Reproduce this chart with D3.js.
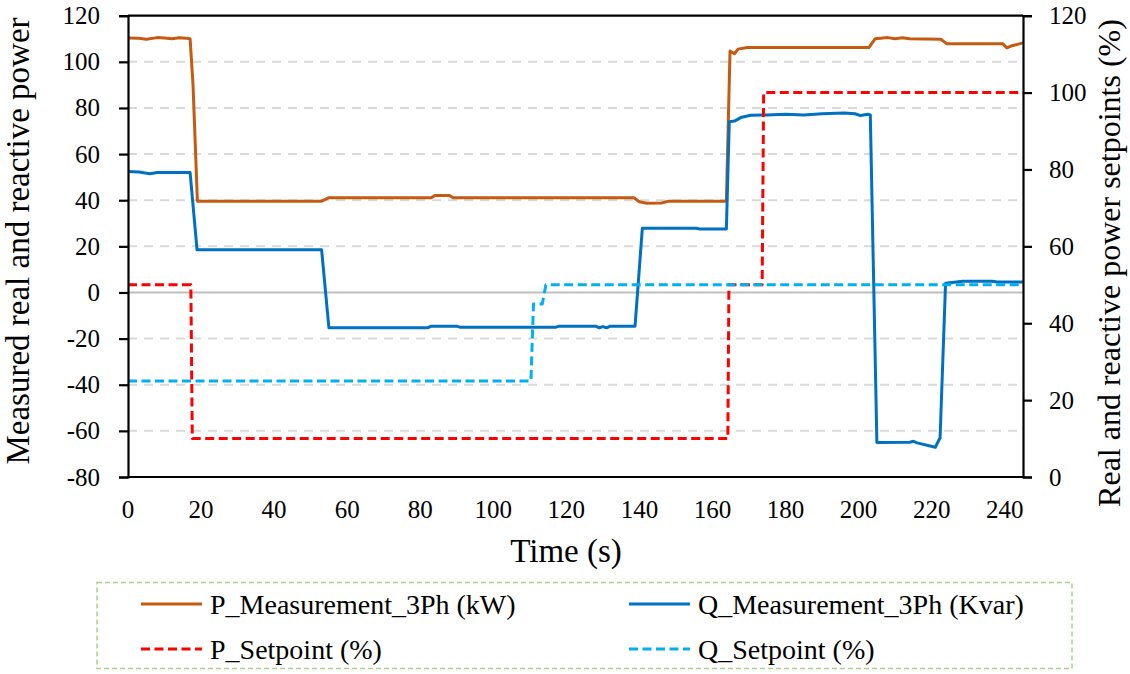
<!DOCTYPE html>
<html>
<head>
<meta charset="utf-8">
<script src="https://cdn.jsdelivr.net/npm/d3@7"></script>
</head>
<body style="margin:0">
<svg id="s" width="1130" height="674" font-family="Liberation Serif"></svg>
<script>
// Measured P (kW) - time (s) and value
var pMeasT = [0, 3, 5, 8, 10, 12, 14, 16, 17, 17.8, 19, 53, 55, 83, 84, 88, 89, 138.5, 140, 142, 146, 148, 163.8, 164.8, 166, 167, 169.5, 202.8, 204.5, 206, 208, 210, 212, 214, 222.5, 224.2, 239.5, 240.6, 242, 245];
var pMeasV = [110.3, 110.2, 109.8, 110.5, 110.3, 110, 110.4, 110.2, 110, 90, 39.6, 39.6, 41.1, 41.1, 42, 42, 41.1, 41.1, 39.3, 38.7, 38.8, 39.6, 39.6, 104.7, 103.5, 105.5, 106.2, 106.2, 110, 110.2, 110.5, 110, 110.4, 110, 109.8, 107.8, 107.8, 106, 107, 108.2];

// Measured Q (kvar)
var qMeasT = [0, 3, 6, 8, 17, 18.9, 53, 55, 82, 83, 90, 91, 117, 118, 128, 129, 130, 131, 132, 138.8, 140.8, 155.5, 156.5, 163.8, 164.6, 166, 168, 170.5, 175, 180, 185, 190, 196, 199, 200.5, 202.5, 203.2, 205, 214, 215, 216, 221, 222.3, 223.8, 228.5, 236.5, 238, 245];
var qMeasV = [52.5, 52.2, 51.5, 52, 52, 18.5, 18.5, -15.3, -15.3, -14.6, -14.6, -15.1, -15.1, -14.6, -14.6, -15.3, -14.8, -15.3, -14.6, -14.6, 27.9, 27.9, 27.5, 27.5, 74, 74.3, 76, 76.8, 77, 77.3, 77, 77.5, 77.8, 77.5, 76.7, 77.3, 77, -65, -64.9, -64.5, -65.2, -67.1, -63, 4, 4.9, 4.9, 4.5, 4.5];

// Setpoints (%), right axis
var pSetT = [0, 17.2, 17.6, 164.2, 164.5, 173.6, 174, 245];
var pSetV = [50, 50, 10, 10, 50, 50, 100, 100];
var qSetT = [0, 110.3, 111, 113.4, 114.4, 245];
var qSetV = [25, 25, 45, 45, 50, 50];

var xTicks = [0, 20, 40, 60, 80, 100, 120, 140, 160, 180, 200, 220, 240];
var yLeftTicks = [-80, -60, -40, -20, 0, 20, 40, 60, 80, 100, 120];
var yRightTicks = [0, 20, 40, 60, 80, 100, 120];

var series = [
    {name: "P_Measurement_3Ph (kW)", t: pMeasT, v: pMeasV, axis: "left", color: "#c55a11", dash: null},
    {name: "Q_Measurement_3Ph (Kvar)", t: qMeasT, v: qMeasV, axis: "left", color: "#0070c0", dash: null},
    {name: "P_Setpoint (%)", t: pSetT, v: pSetV, axis: "right", color: "#ff0000", dash: "9,4.5"},
    {name: "Q_Setpoint (%)", t: qSetT, v: qSetV, axis: "right", color: "#00b0f0", dash: "9,4.5"}
];

var fontName = "Liberation Serif";
var plot = {left: 128, right: 1023, top: 15.7, bottom: 477};
var svg = d3.select("#s");

var x = d3.scaleLinear().domain([0, 245]).range([plot.left, plot.right]);
var yL = d3.scaleLinear().domain([-80, 120]).range([plot.bottom, plot.top]);
var yR = d3.scaleLinear().domain([0, 120]).range([plot.bottom, plot.top]);

function label(parent, size) {
    return parent.append("text")
        .attr("font-family", fontName)
        .attr("font-size", size)
        .attr("fill", "#000");
}

// gridlines
svg.append("g")
    .selectAll("line")
    .data(yLeftTicks.filter(d => d > -80 && d < 120))
    .enter().append("line")
    .attr("x1", plot.left)
    .attr("x2", plot.right)
    .attr("y1", d => yL(d))
    .attr("y2", d => yL(d))
    .attr("stroke", d => d === 0 ? "#bfbfbf" : "#d9d9d9")
    .attr("stroke-width", 2)
    .attr("stroke-dasharray", d => d === 0 ? null : "9,7");

// series lines
var line = d3.line();
series.forEach(function (s) {
    var yScale = s.axis === "left" ? yL : yR;
    var pts = s.t.map((t, i) => [x(t), yScale(s.v[i])]);
    svg.append("path")
        .attr("d", line(pts))
        .attr("fill", "none")
        .attr("stroke", s.color)
        .attr("stroke-width", 3)
        .attr("stroke-linejoin", "round")
        .attr("stroke-dasharray", s.dash);
});

// axis lines and ticks from d3 axes, labels drawn separately
var leftAxis = svg.append("g")
    .attr("transform", "translate(" + plot.left + ",0)")
    .call(d3.axisLeft(yL).tickValues(yLeftTicks).tickFormat("").tickSize(9));
var rightAxis = svg.append("g")
    .attr("transform", "translate(" + plot.right + ",0)")
    .call(d3.axisRight(yR).tickValues(yRightTicks).tickFormat("").tickSize(9));
var bottomAxis = svg.append("g")
    .attr("transform", "translate(0," + plot.bottom + ")")
    .call(d3.axisBottom(x).tickValues(xTicks).tickFormat("").tickSize(0));

[leftAxis, rightAxis, bottomAxis].forEach(function (a) {
    a.attr("font-family", null).attr("font-size", null);
    a.selectAll("text").remove();
    a.selectAll("path").attr("stroke", "#000").attr("stroke-width", 2.2);
    a.selectAll("line").attr("stroke", "#000").attr("stroke-width", 2.2);
});
bottomAxis.select(".domain").attr("d", "M" + plot.left + ",0H" + plot.right);

// tick labels (plain hyphen for negatives, as in the original)
yLeftTicks.forEach(function (d) {
    label(svg, 25).attr("x", plot.left - 28).attr("y", yL(d) + 8.5)
        .attr("text-anchor", "end").text(String(d));
});
yRightTicks.forEach(function (d) {
    label(svg, 25).attr("x", plot.right + 26).attr("y", yR(d) + 8.5)
        .text(String(d));
});
xTicks.forEach(function (d) {
    label(svg, 25).attr("x", x(d)).attr("y", plot.bottom + 41)
        .attr("text-anchor", "middle").text(String(d));
});

// top border
svg.append("line")
    .attr("x1", plot.left).attr("x2", plot.right)
    .attr("y1", plot.top).attr("y2", plot.top)
    .attr("stroke", "#000").attr("stroke-width", 2.2);

// axis titles
label(svg, 33)
    .attr("transform", "translate(29,241) rotate(-90)")
    .attr("text-anchor", "middle")
    .text("Measured real and reactive power");

label(svg, 32)
    .attr("transform", "translate(1120,263) rotate(-90)")
    .attr("text-anchor", "middle")
    .text("Real and reactive power setpoints (%)");

label(svg, 33)
    .attr("x", 566)
    .attr("y", 562)
    .attr("text-anchor", "middle")
    .text("Time (s)");

// legend
svg.append("rect")
    .attr("x", 97).attr("y", 582.5)
    .attr("width", 975).attr("height", 86)
    .attr("fill", "none")
    .attr("stroke", "#a9d18e")
    .attr("stroke-width", 1.5)
    .attr("stroke-dasharray", "5,3");

var legendPos = [[141, 604], [629, 604], [141, 649], [629, 649]];
series.forEach(function (s, i) {
    var p = legendPos[i];
    svg.append("line")
        .attr("x1", p[0]).attr("x2", p[0] + 61)
        .attr("y1", p[1]).attr("y2", p[1])
        .attr("stroke", s.color)
        .attr("stroke-width", 3)
        .attr("stroke-dasharray", s.dash);
    label(svg, 28)
        .attr("x", p[0] + 69)
        .attr("y", p[1] + 10)
        .text(s.name);
});
</script>
</body>
</html>
